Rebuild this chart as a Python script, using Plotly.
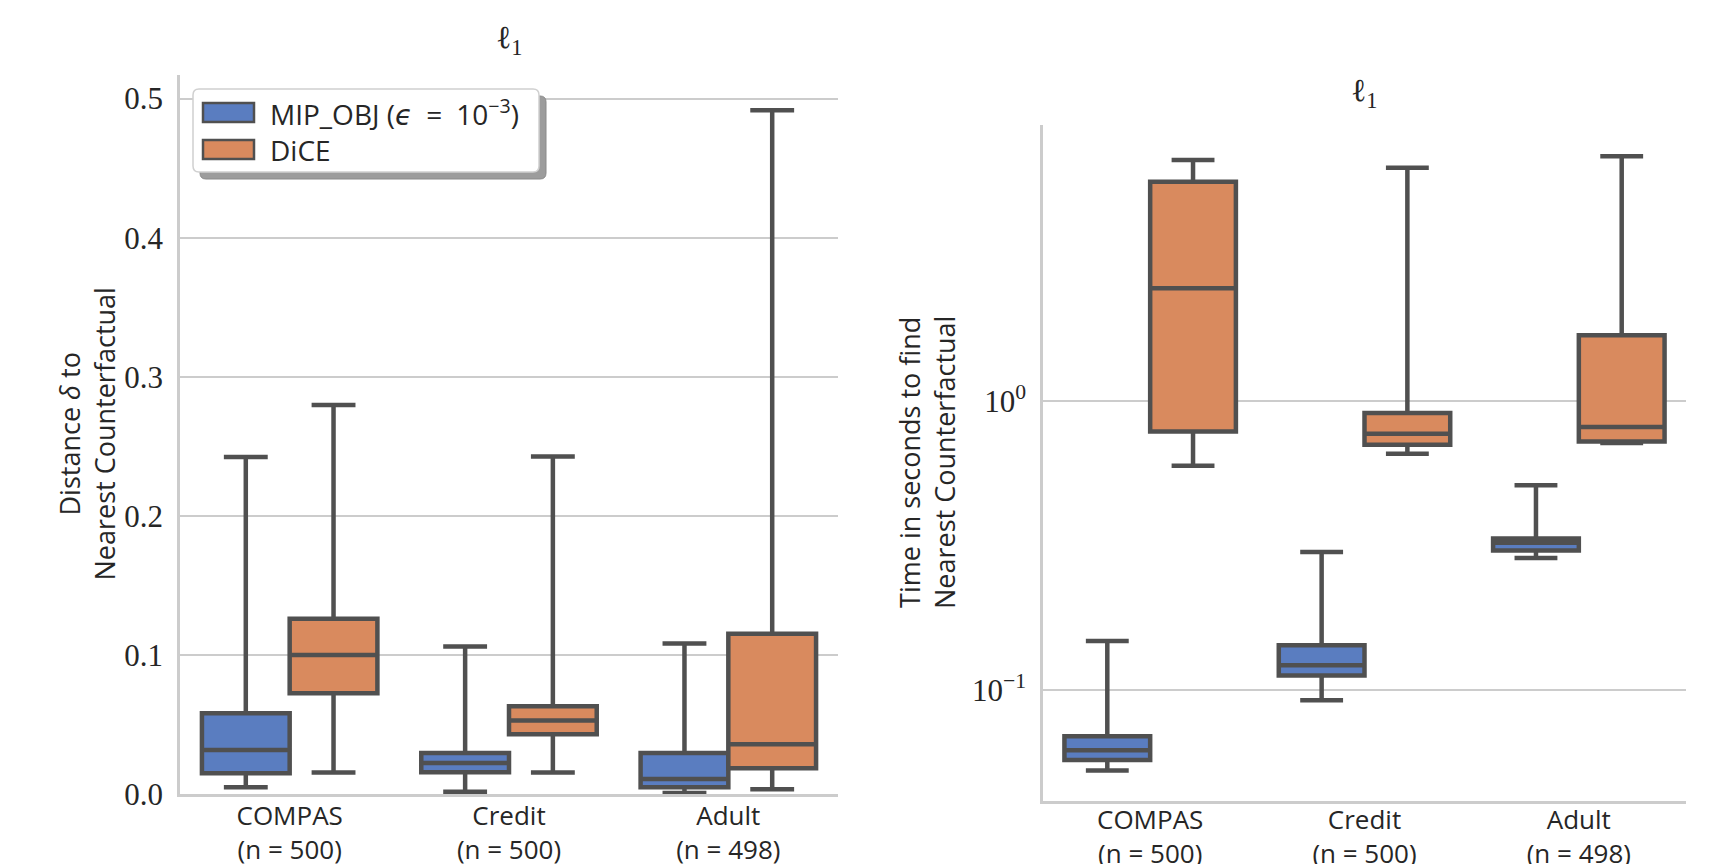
import plotly.graph_objects as go

# ---------------- data ----------------
datasets = ["COMPAS<br>(n = 500)", "Credit<br>(n = 500)", "Adult<br>(n = 498)"]

# Distance (l1) to nearest counterfactual
dist_mip_low = [0.0048, 0.0017, 0.0007]
dist_mip_q1 = [0.0149, 0.0156, 0.0048]
dist_mip_med = [0.0317, 0.0223, 0.0108]
dist_mip_q3 = [0.0581, 0.0295, 0.0295]
dist_mip_high = [0.2423, 0.1061, 0.1083]

dist_dice_low = [0.0154, 0.0154, 0.0034]
dist_dice_q1 = [0.0725, 0.0430, 0.0185]
dist_dice_med = [0.1000, 0.0528, 0.0358]
dist_dice_q3 = [0.1260, 0.0631, 0.1152]
dist_dice_high = [0.2797, 0.2427, 0.4916]

# Time in seconds to find nearest counterfactual
time_mip_low = [0.0526, 0.092, 0.286]
time_mip_q1 = [0.0571, 0.112, 0.304]
time_mip_med = [0.0618, 0.1216, 0.323]
time_mip_q3 = [0.0690, 0.1427, 0.334]
time_mip_high = [0.1476, 0.300, 0.511]

time_dice_low = [0.597, 0.657, 0.716]
time_dice_q1 = [0.785, 0.706, 0.725]
time_dice_med = [2.46, 0.770, 0.813]
time_dice_q3 = [5.75, 0.909, 1.69]
time_dice_high = [6.84, 6.43, 7.04]

dist_ticks = [0.0, 0.1, 0.2, 0.3, 0.4, 0.5]
dist_ticktext = ["0.0", "0.1", "0.2", "0.3", "0.4", "0.5"]
time_ticks = [0.1, 1.0]
time_ticktext = ["10<sup>\u22121</sup>", "10<sup>0</sup>"]

series_names = ["MIP_OBJ (<i>\u03f5</i>\u2002=\u200210<sup>\u22123</sup>)", "DiCE"]

# ---------------- style ----------------
W, H = 1736, 864
BLUE = "#5A7DC0"
ORANGE = "#D98A5E"
EDGE = "#505050"
GRID = "#CCCCCC"
TXT = "#262626"
SANS = "Open Sans, DejaVu Sans, sans-serif"
SERIF = "Liberation Serif, DejaVu Serif, serif"
LW = 4.5


def px_x(p):
    return p / W


def px_y(p):
    return 1 - p / H


def rounded_rect(x0, y0, x1, y1, r):
    """SVG path (paper coords) of a rounded rectangle given in pixels."""
    X = px_x
    Y = px_y
    return (f"M {X(x0 + r)},{Y(y0)} L {X(x1 - r)},{Y(y0)} Q {X(x1)},{Y(y0)} {X(x1)},{Y(y0 + r)} "
            f"L {X(x1)},{Y(y1 - r)} Q {X(x1)},{Y(y1)} {X(x1 - r)},{Y(y1)} "
            f"L {X(x0 + r)},{Y(y1)} Q {X(x0)},{Y(y1)} {X(x0)},{Y(y1 - r)} "
            f"L {X(x0)},{Y(y0 + r)} Q {X(x0)},{Y(y0)} {X(x0 + r)},{Y(y0)} Z")


fig = go.Figure()


def add_box(q1, med, q3, lo, hi, color, xa, ya, group):
    fig.add_trace(go.Box(
        x=datasets, q1=q1, median=med, q3=q3, lowerfence=lo, upperfence=hi,
        fillcolor=color, line=dict(color=EDGE, width=LW),
        boxpoints=False, whiskerwidth=0.5, offsetgroup=group,
        xaxis=xa, yaxis=ya, showlegend=False, hoverinfo="skip",
    ))


add_box(dist_mip_q1, dist_mip_med, dist_mip_q3, dist_mip_low, dist_mip_high, BLUE, "x", "y", "a")
add_box(dist_dice_q1, dist_dice_med, dist_dice_q3, dist_dice_low, dist_dice_high, ORANGE, "x", "y", "b")
add_box(time_mip_q1, time_mip_med, time_mip_q3, time_mip_low, time_mip_high, BLUE, "x2", "y2", "a")
add_box(time_dice_q1, time_dice_med, time_dice_q3, time_dice_low, time_dice_high, ORANGE, "x2", "y2", "b")

# plot areas (pixels, top-left origin)
L_X0, L_X1, L_Y0, L_Y1 = 180, 838, 75, 794
R_X0, R_X1, R_Y0, R_Y1 = 1043, 1686, 125, 801

xcommon = dict(type="category", showline=True, linecolor=GRID, linewidth=2.5,
               showgrid=False, zeroline=False, ticks="", automargin=False,
               tickfont=dict(family=SANS, size=26, color=TXT))
ycommon = dict(showline=True, linecolor=GRID, linewidth=2.5, showgrid=True,
               gridcolor=GRID, gridwidth=2, zeroline=False, ticks="", automargin=False,
               tickfont=dict(family=SERIF, size=31, color=TXT), ticklabelstandoff=8)

fig.update_layout(
    width=W, height=H,
    margin=dict(l=0, r=0, t=0, b=0, autoexpand=False),
    paper_bgcolor="white", plot_bgcolor="white",
    boxmode="group", boxgap=0.2, boxgroupgap=0,
    xaxis=dict(domain=[px_x(L_X0), px_x(L_X1)], anchor="y", ticklabelstandoff=-3, **xcommon),
    yaxis=dict(domain=[px_y(L_Y1), px_y(L_Y0)], anchor="x", range=[0, 0.517],
               tickvals=dist_ticks, ticktext=dist_ticktext, **ycommon),
    xaxis2=dict(domain=[px_x(R_X0), px_x(R_X1)], anchor="y2", ticklabelstandoff=-6, **xcommon),
    yaxis2=dict(domain=[px_y(R_Y1), px_y(R_Y0)], anchor="x2", type="log",
                range=[-1.385, 0.956], tickvals=time_ticks, ticktext=time_ticktext,
                **ycommon),
    showlegend=False,
)

annotations = []
# subplot titles
annotations.append(dict(text="\u2113<sub>1</sub>", x=px_x((L_X0 + L_X1) / 2), y=px_y(40),
                        xref="paper", yref="paper", showarrow=False,
                        font=dict(family=SERIF, size=32, color=TXT),
                        xanchor="center", yanchor="middle"))
annotations.append(dict(text="\u2113<sub>1</sub>", x=px_x((R_X0 + R_X1) / 2), y=px_y(93),
                        xref="paper", yref="paper", showarrow=False,
                        font=dict(family=SERIF, size=32, color=TXT),
                        xanchor="center", yanchor="middle"))
# axis titles
annotations.append(dict(text="Distance <i>\u03b4</i> to<br>Nearest Counterfactual",
                        x=px_x(86), y=px_y((L_Y0 + L_Y1) / 2), xref="paper", yref="paper",
                        showarrow=False, textangle=-90,
                        font=dict(family=SANS, size=27, color=TXT),
                        xanchor="center", yanchor="middle"))
annotations.append(dict(text="Time in seconds to find<br>Nearest Counterfactual",
                        x=px_x(927), y=px_y((R_Y0 + R_Y1) / 2), xref="paper", yref="paper",
                        showarrow=False, textangle=-90,
                        font=dict(family=SANS, size=27, color=TXT),
                        xanchor="center", yanchor="middle"))

# manual legend (frame with shadow, swatches, labels)
shapes = []
shapes.append(dict(type="path", xref="paper", yref="paper",
                   path=rounded_rect(200, 96, 546, 179, 6),
                   fillcolor="#9C9C9C", line=dict(color="#8A8A8A", width=1), layer="above"))
shapes.append(dict(type="path", xref="paper", yref="paper",
                   path=rounded_rect(193, 89, 539, 172, 6),
                   fillcolor="white", line=dict(color="#D0D0D0", width=1.5), layer="above"))
for i, col in enumerate([BLUE, ORANGE]):
    yt = 103 + i * 37
    shapes.append(dict(type="rect", xref="paper", yref="paper",
                       x0=px_x(203), x1=px_x(254), y0=px_y(yt + 19), y1=px_y(yt),
                       fillcolor=col, line=dict(color=EDGE, width=2.5), layer="above"))
    annotations.append(dict(text=series_names[i], x=px_x(268), y=px_y(yt + 10),
                            xref="paper", yref="paper", showarrow=False,
                            font=dict(family=SANS, size=28, color=TXT),
                            xanchor="left", yanchor="middle"))

fig.update_layout(annotations=annotations, shapes=shapes)

fig.write_html("out.html", config={"displayModeBar": False},
               post_script="document.body.style.margin='0px';")
